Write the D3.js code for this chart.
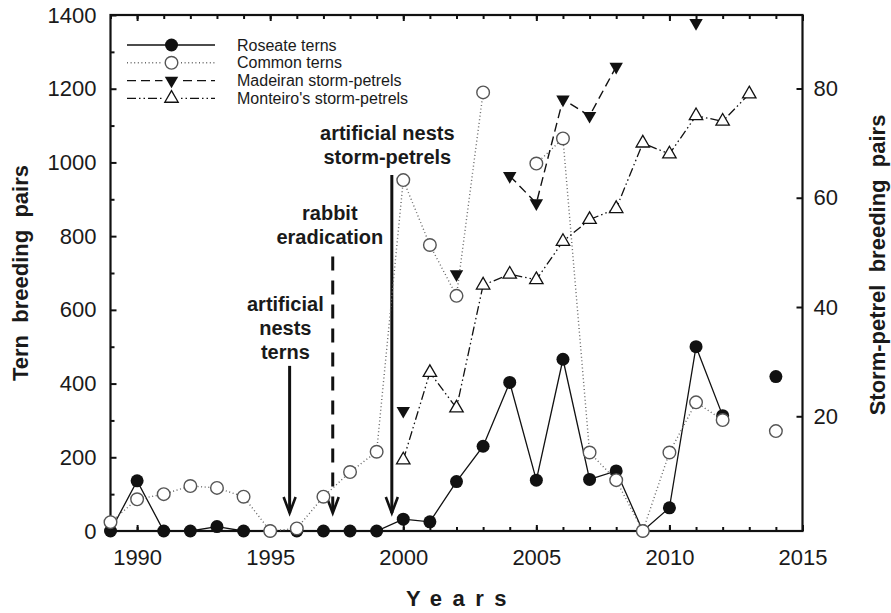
<!DOCTYPE html>
<html>
<head>
<meta charset="utf-8">
<script src="https://cdn.jsdelivr.net/npm/d3@7"></script>
<style>
  body { margin: 0; background: #fff; }
  svg { font-family: "Liberation Sans", Arial, sans-serif; }
</style>
</head>
<body>
<svg width="891" height="613"></svg>
<script>
// data
const years = d3.range(1989, 2015);
const roseate  = [0, 136, 0, 0, 12, 0, 0, 0, 0, 0, 0, 32, 25, 134, 230, 403, 138, 466, 140, 163, 0, 63, 500, 313, null, 419];
const common   = [24, 86, 100, 122, 117, 93, 0, 7, 93, 160, 215, 952, 776, 638, 1190, null, 997, 1065, 213, 138, 0, 213, 349, 301, null, 271];
const madeiran = [null, null, null, null, null, null, null, null, null, null, null, 21, null, 46, null, 64, 59, 78, 75, 84, null, null, 92, null, null, null];
const monteiro = [null, null, null, null, null, null, null, null, null, null, null, 12, 28, 21.5, 44, 46, 45, 52, 56, 58, 70, 68, 75, 74, 79, null];

const leftTicks = [0, 200, 400, 600, 800, 1000, 1200, 1400];
const rightTicks = [20, 40, 60, 80];
const yearTicks = [1990, 1995, 2000, 2005, 2010, 2015];

const seriesNames = ["Roseate terns", "Common terns", "Madeiran storm-petrels", "Monteiro's storm-petrels"];

// annotations: year of arrow, top of arrow (tern pairs), text lines
const notes = [
  { year: 1995.73, top: 448, dashed: false, lines: ["artificial", "nests", "terns"], tx: 1995.57, ty: 311 },
  { year: 1997.35, top: 745, dashed: true,  lines: ["rabbit", "eradication"], tx: 1997.24, ty: 220 },
  { year: 1999.57, top: 966, dashed: false, lines: ["artificial nests", "storm-petrels"], tx: 1999.4, ty: 140 }
];

const svg = d3.select("svg");
const x = d3.scaleLinear().domain([1989, 2015]).range([110.5, 802.5]);
const y = d3.scaleLinear().domain([0, 1400]).range([531, 15]);
const y2 = d3.scaleLinear().domain([-1, 93.45]).range([531, 15]);

// minor ticks
const g = svg.append("g");
g.append("g").attr("transform", "translate(0,531)")
  .call(d3.axisBottom(x).tickValues(years.concat([2015])).tickSize(-4).tickFormat(""));
g.append("g").attr("transform", "translate(0,15)")
  .call(d3.axisTop(x).tickValues(years.concat([2015])).tickSize(-4).tickFormat(""));
g.append("g").attr("transform", "translate(110.5,0)")
  .call(d3.axisLeft(y).tickValues(d3.range(100, 1400, 200)).tickSize(-4).tickFormat(""));

// major ticks
svg.append("g").attr("transform", "translate(0,531)")
  .call(d3.axisBottom(x).tickValues(yearTicks).tickSize(-6).tickPadding(18).tickFormat(d3.format("d")));
svg.append("g").attr("transform", "translate(0,15)")
  .call(d3.axisTop(x).tickValues(yearTicks).tickSize(-6).tickFormat(""));
svg.append("g").attr("transform", "translate(110.5,0)")
  .call(d3.axisLeft(y).tickValues(leftTicks).tickSize(-6).tickPadding(14).tickFormat(d3.format("d")));
svg.append("g").attr("transform", "translate(802.5,0)")
  .call(d3.axisRight(y2).tickValues(rightTicks).tickSize(-6).tickPadding(11).tickFormat(d3.format("d")));

svg.selectAll(".domain").remove();
svg.selectAll(".tick line").attr("stroke", "#111").attr("stroke-width", 2);
svg.selectAll(".tick text").attr("font-size", 22).attr("fill", "#1a1a1a")
  .attr("font-family", "'Liberation Sans', Arial, sans-serif");

// frame
svg.append("rect").attr("x", 110.5).attr("y", 15).attr("width", 692).attr("height", 516)
  .attr("fill", "none").attr("stroke", "#111").attr("stroke-width", 2.2);

// axis titles
svg.append("text").attr("transform", "translate(28,273) rotate(-90)")
  .attr("text-anchor", "middle").attr("font-size", 22).attr("font-weight", "bold")
  .style("white-space", "pre").attr("fill", "#1a1a1a").text("Tern  breeding  pairs");
svg.append("text").attr("transform", "translate(885,265) rotate(-90)")
  .attr("text-anchor", "middle").attr("font-size", 22).attr("font-weight", "bold")
  .style("white-space", "pre").attr("fill", "#1a1a1a").text("Storm-petrel  breeding  pairs");
svg.append("text").attr("x", 456.5 + 5).attr("y", 606)
  .attr("text-anchor", "middle").attr("font-size", 22).attr("font-weight", "bold")
  .attr("letter-spacing", "10.5px").attr("fill", "#1a1a1a").text("Years");

// annotations
notes.forEach(n => {
  const ax = x(n.year);
  svg.append("line").attr("x1", ax).attr("x2", ax).attr("y1", y(n.top)).attr("y2", 513)
    .attr("stroke", "#111").attr("stroke-width", 3)
    .attr("stroke-dasharray", n.dashed ? "14,10" : null);
  svg.append("path").attr("d", `M${ax - 6},${497} L${ax},${513} L${ax + 6},${497}`)
    .attr("fill", "none").attr("stroke", "#111").attr("stroke-width", 2.6);
  n.lines.forEach((t, i) => {
    svg.append("text").attr("x", x(n.tx)).attr("y", n.ty + i * 24)
      .attr("text-anchor", "middle").attr("font-size", 20).attr("font-weight", "bold")
      .attr("fill", "#1a1a1a").text(t);
  });
});

// series
const styles = [
  { data: roseate,  scale: y,  dash: null,               stroke: "#111", width: 1.3 },
  { data: common,   scale: y,  dash: "1,2.6",            stroke: "#666", width: 1.4 },
  { data: madeiran, scale: y2, dash: "9,5",              stroke: "#111", width: 1.4 },
  { data: monteiro, scale: y2, dash: "9,3,1.5,3,1.5,3",  stroke: "#111", width: 1.3 }
];

styles.forEach(s => {
  const pts = years.map((yr, i) => ({ yr, v: s.data[i] }));
  const line = d3.line().defined(d => d.v != null).x(d => x(d.yr)).y(d => s.scale(d.v));
  svg.append("path").datum(pts).attr("d", line).attr("fill", "none")
    .attr("stroke", s.stroke).attr("stroke-width", s.width).attr("stroke-dasharray", s.dash);
});

const tri = d3.symbol().type(d3.symbolTriangle).size(78);

function marker(sel, k) {
  if (k === 0) sel.append("circle").attr("r", 6.5).attr("fill", "#111");
  if (k === 1) sel.append("circle").attr("r", 6.3).attr("fill", "#fff").attr("stroke", "#555").attr("stroke-width", 1.4);
  if (k === 2) sel.append("path").attr("d", tri).attr("transform", "rotate(180)").attr("fill", "#111");
  if (k === 3) sel.append("path").attr("d", tri).attr("fill", "#fff").attr("stroke", "#111").attr("stroke-width", 1.3);
}

// draw order: monteiro, madeiran, roseate, common on top
[3, 2, 0, 1].forEach(k => {
  const s = styles[k];
  years.forEach((yr, i) => {
    if (s.data[i] == null) return;
    const m = svg.append("g").attr("transform", `translate(${x(yr)},${s.scale(s.data[i])})`);
    marker(m, k);
  });
});

// legend
const legend = svg.append("g");
seriesNames.forEach((name, k) => {
  const ly = 45 + k * 17.8;
  legend.append("line").attr("x1", 127).attr("x2", 215).attr("y1", ly).attr("y2", ly)
    .attr("stroke", styles[k].stroke).attr("stroke-width", styles[k].width)
    .attr("stroke-dasharray", styles[k].dash);
  const m = legend.append("g").attr("transform", `translate(171.5,${ly})`);
  if (k !== 0) m.append("rect").attr("x", -9).attr("y", -8).attr("width", 18).attr("height", 16).attr("fill", "#fff");
  marker(m, k);
  legend.append("text").attr("x", 237).attr("y", ly + 5.5).attr("font-size", 16)
    .attr("fill", "#1a1a1a").text(name);
});
</script>
</body>
</html>
